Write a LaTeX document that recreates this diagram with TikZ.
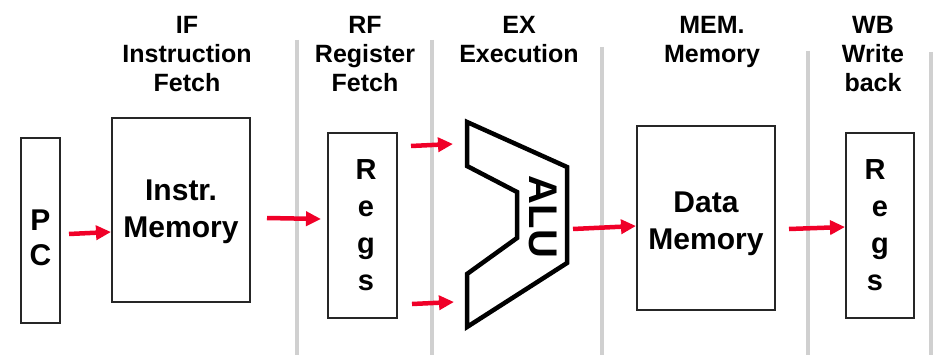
\documentclass[tikz,border=0pt]{standalone}
\usepackage{fontspec}
\setmainfont{Liberation Sans}
\usetikzlibrary{arrows.meta}
\definecolor{arrowred}{RGB}{240,0,40}
\definecolor{sepgray}{RGB}{208,208,208}
\tikzset{
  stagebox/.style={draw=black!85, line width=1.2pt, rectangle, inner sep=0pt, align=center,
    font=\fontsize{30}{37}\selectfont\bfseries},
  boxtext/.style={align=center, inner sep=0pt, font=\fontsize{30}{37}\selectfont\bfseries},
  stagetitle/.style={anchor=north, inner sep=0pt, align=center,
    font=\fontsize{25}{29}\selectfont\bfseries},
  flow/.style={draw=arrowred, line width=4.5pt, -{Triangle[length=15pt,width=14pt]}},
  separator/.style={draw=sepgray, line width=4pt},
  alushape/.style={draw=black, line width=4.5pt, line join=miter}
}
\begin{document}
\begin{tikzpicture}[x=1pt,y=-1pt]
\useasboundingbox (0,0) rectangle (934,361);

% pipeline stage separators
\draw[separator] (297,40) -- (297,355);
\draw[separator] (432,40) -- (432,355);
\draw[separator] (602,47) -- (602,355);
\draw[separator] (808,51) -- (808,355);
\draw[separator] (931,52) -- (931,355);

% stage titles
\node[stagetitle] (tif)  at (187,16) {IF\\Instruction\\Fetch};
\node[stagetitle] (trf)  at (365,16) {RF\\Register\\Fetch};
\node[stagetitle] (tex)  at (519,16) {EX\\Execution};
\node[stagetitle] (tmem) at (712,16) {MEM.\\Memory};
\node[stagetitle] (twb)  at (873,16) {WB\\Write\\back};

% datapath blocks
\node[stagebox, minimum width=39pt, minimum height=185pt,
  label={[name=pctext, boxtext, yshift=-7pt,
          font=\fontsize{30}{35}\selectfont\bfseries]center:P\\C}] (pc) at (40.5,230.5) {};
\node[stagebox, minimum width=138pt, minimum height=184pt,
  label={[name=imtext, boxtext, yshift=-2pt]center:Instr.\\Memory}] (im) at (181,210) {};
\node[stagebox, minimum width=69pt, minimum height=185pt,
  font=\fontsize{29}{37}\selectfont\bfseries] (rf) at (362.5,225.5) {\hspace*{7pt}R\\\hspace*{7pt}e\\\hspace*{7pt}g\\\hspace*{7pt}s};
\node[stagebox, minimum width=138pt, minimum height=184pt,
  label={[name=dmtext, boxtext, yshift=-6pt]center:Data\\Memory}] (dm) at (706,218) {};
\node[stagebox, minimum width=68pt, minimum height=185pt,
  font=\fontsize{29}{37}\selectfont\bfseries] (wb) at (880,225.5) {R\hspace*{10pt}\\e\hspace*{10pt}\\g\hspace*{10pt}\\s\hspace*{10pt}};

% ALU outline
\draw[alushape] (467,122) -- (567,167) -- (567,263) -- (467,327) -- (467,274)
  -- (517,238) -- (517,192) -- (467,166) -- cycle;
\node[rotate=-90, inner sep=0pt, font=\fontsize{40}{40}\selectfont\bfseries] (alu) at (543,217) {ALU};

% arrow end points
\coordinate (pcout) at (69,234);   \coordinate (imin) at (111,232);
\coordinate (imout) at (267,218);  \coordinate (rfin) at (321,219);
\coordinate (rfouta) at (411,146); \coordinate (aluina) at (453,144);
\coordinate (rfoutb) at (412,304); \coordinate (aluinb) at (454,302);
\coordinate (aluout) at (573,229); \coordinate (dmin) at (636,226);
\coordinate (dmout) at (789,229);  \coordinate (wbin) at (845,227);

% data flow
\draw[flow] (pcout) -- (imin);
\draw[flow] (imout) -- (rfin);
\draw[flow] (rfouta) -- (aluina);
\draw[flow] (rfoutb) -- (aluinb);
\draw[flow] (aluout) -- (dmin);
\draw[flow] (dmout) -- (wbin);
\end{tikzpicture}
\end{document}
